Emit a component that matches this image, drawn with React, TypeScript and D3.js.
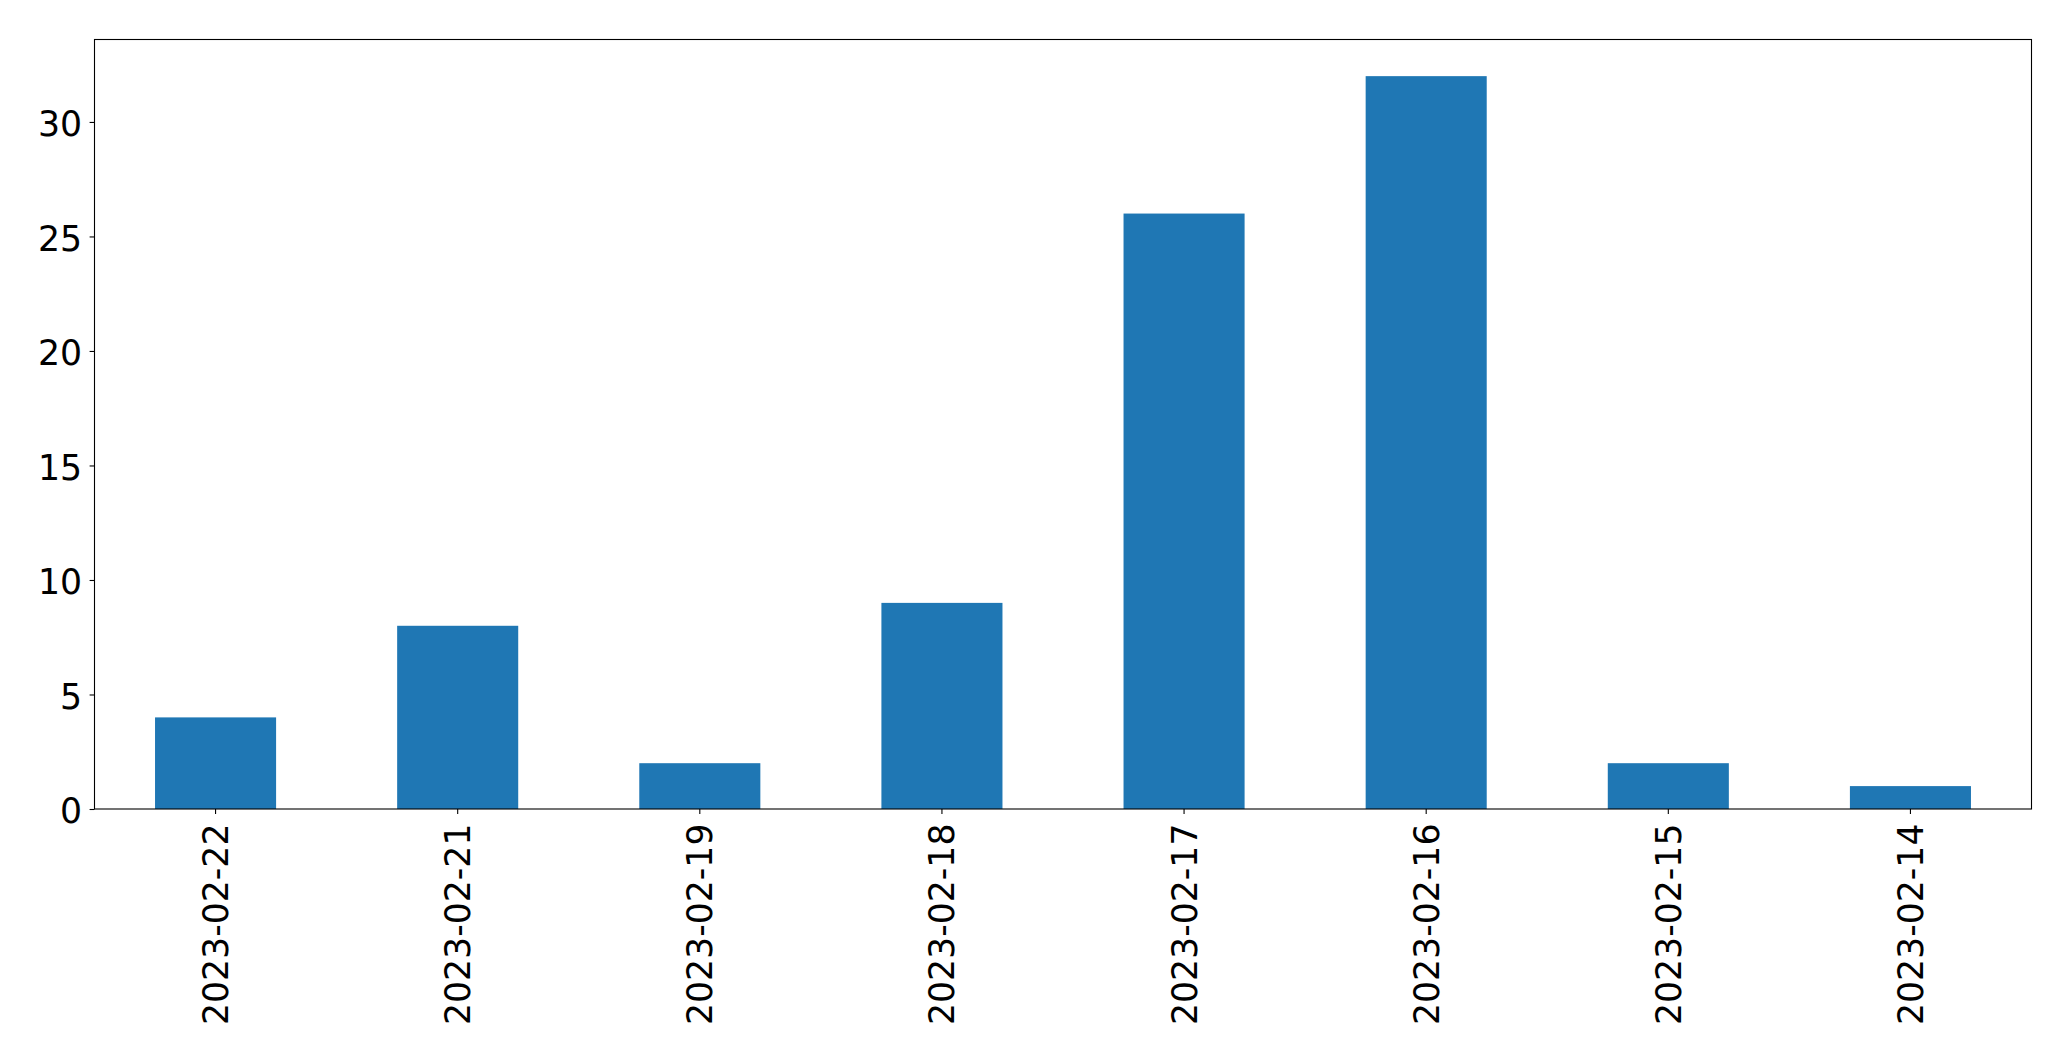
import * as d3 from 'd3'
import { useEffect, useRef } from 'react'

const categories = [
  '2023-02-22',
  '2023-02-21',
  '2023-02-19',
  '2023-02-18',
  '2023-02-17',
  '2023-02-16',
  '2023-02-15',
  '2023-02-14',
]
const counts = [4, 8, 2, 9, 26, 32, 2, 1]
const yTicks = [0, 5, 10, 15, 20, 25, 30]

const W = 2071
const H = 1061
const margin = { top: 39.5, right: 39.5, bottom: 252, left: 94.5 }
const FONT = '"DejaVu Sans", sans-serif'
const FS = 34.7

const App = () => {
  const ref = useRef<SVGSVGElement>(null)

  useEffect(() => {
    const svg = d3.select(ref.current)
    svg.selectAll('*').remove()

    const width = W - margin.left - margin.right
    const height = H - margin.top - margin.bottom

    const x = d3
      .scaleBand<string>()
      .domain(categories)
      .range([0, width])
      .paddingInner(0.5)
      .paddingOuter(0.25)

    const y = d3
      .scaleLinear()
      .domain([0, d3.max(counts)! * 1.05])
      .range([height, 0])

    const g = svg
      .append('g')
      .attr('transform', 'translate(' + margin.left + ',' + margin.top + ')')

    g.selectAll('rect.bar')
      .data(counts)
      .enter()
      .append('rect')
      .attr('class', 'bar')
      .attr('x', (d, i) => x(categories[i])!)
      .attr('width', x.bandwidth())
      .attr('y', (d) => y(d))
      .attr('height', (d) => y(0) - y(d))
      .style('fill', '#1f77b4')

    // x axis
    const xAxis = g
      .append('g')
      .attr('transform', 'translate(0,' + height + ')')
      .call(d3.axisBottom(x).tickSize(4.9).tickPadding(0))
    xAxis.select('.domain').remove()
    xAxis.selectAll('line').attr('stroke', '#000').attr('stroke-width', 1.1)
    xAxis
      .selectAll('text')
      .attr('transform', 'rotate(-90)')
      .attr('x', -14.5)
      .attr('y', 0)
      .attr('dy', '0.36em')
      .style('text-anchor', 'end')
      .style('font-family', FONT)
      .style('font-size', FS + 'px')
      .style('fill', '#000')

    // y axis
    const yAxis = g
      .append('g')
      .call(d3.axisLeft(y).tickValues(yTicks).tickSize(4.9).tickPadding(7.5))
    yAxis.select('.domain').remove()
    yAxis.selectAll('line').attr('stroke', '#000').attr('stroke-width', 1.1)
    yAxis
      .selectAll('text')
      .attr('dy', '0.4em')
      .style('font-family', FONT)
      .style('font-size', FS + 'px')
      .style('fill', '#000')

    // frame
    g.append('rect')
      .attr('width', width)
      .attr('height', height)
      .style('fill', 'none')
      .style('stroke', '#000')
      .style('stroke-width', 1.1)
  }, [])

  return (
    <svg
      ref={ref}
      width={W}
      height={H}
      style={{ position: 'absolute', left: 0, top: 0, background: '#fff' }}
    />
  )
}

export default App
